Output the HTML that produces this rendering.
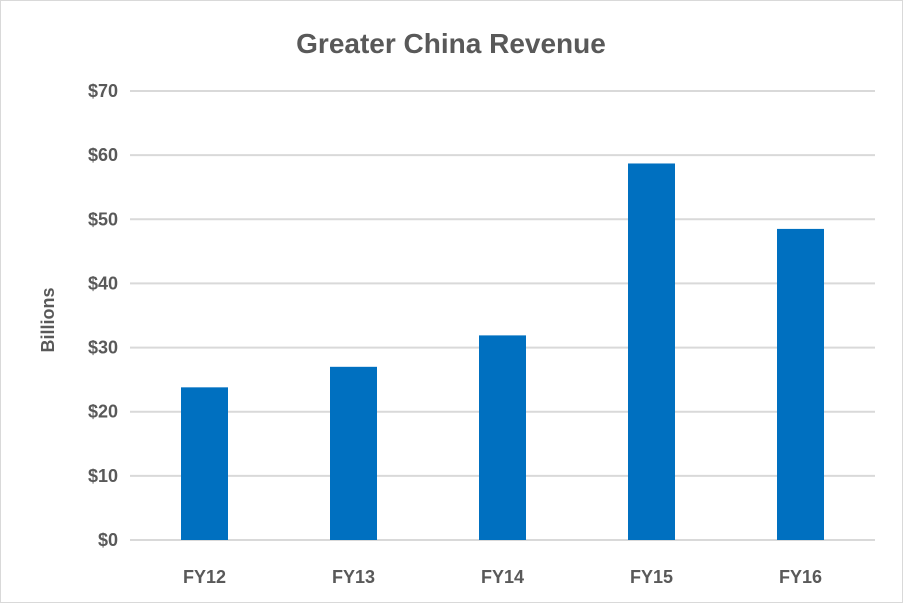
<!DOCTYPE html>
<html><head><meta charset="utf-8"><style>
body{margin:0;background:#fff}
svg{display:block;font-family:"Liberation Sans",Calibri,sans-serif}
</style></head><body>
<svg id="chart" width="903" height="603">
<rect x="0.5" y="0.5" width="902" height="602" fill="#fff" stroke="#d9d9d9"/>
<text x="451" y="53" text-anchor="middle" font-size="28" font-weight="bold" fill="#595959">Greater China Revenue</text>
<text transform="translate(54,320) rotate(-90)" text-anchor="middle" font-size="18" font-weight="bold" fill="#595959">Billions</text>
<g id="grid"></g><g id="bars"></g><g id="xlabels"></g><g id="ylabels"></g>
</svg>
<script>
const categories=["FY12","FY13","FY14","FY15","FY16"];
const revenue=[23.8,27.0,31.9,58.7,48.5];
const yTicks=[0,10,20,30,40,50,60,70];
const yTickLabels=["$0","$10","$20","$30","$40","$50","$60","$70"];
const NS="http://www.w3.org/2000/svg";
const x0=130,x1=875,yBase=540,yTop=91,yMax=70;
const y=v=>yBase-(yBase-yTop)*v/yMax;
const band=(x1-x0)/categories.length;
const xc=i=>x0+band*(i+0.5);
function mk(t,a,p){const e=document.createElementNS(NS,t);for(const k in a)e.setAttribute(k,a[k]);p.appendChild(e);return e;}
const grid=document.getElementById('grid'),bars=document.getElementById('bars'),xl=document.getElementById('xlabels'),yl=document.getElementById('ylabels');
yTicks.forEach((v,i)=>{
 const l=mk('line',{x1:x0,x2:x1,y1:y(v),y2:y(v),stroke:'#d9d9d9','stroke-width':2},grid);
 
 
 const t=mk('text',{x:118,y:y(v)+6,'text-anchor':'end','font-size':18,'font-weight':'bold',fill:'#595959'},yl);
 t.textContent=yTickLabels[i];
 
 
});
categories.forEach((c,i)=>{
 const w=47;
 const r=mk('rect',{x:xc(i)-w/2,y:y(revenue[i]),width:w,height:yBase-y(revenue[i]),fill:'#0070c0'},bars);
 
 
 const t=mk('text',{x:xc(i),y:583,'text-anchor':'middle','font-size':18,'font-weight':'bold',fill:'#595959'},xl);
 t.textContent=c;
 
 
});
</script>
</body></html>
